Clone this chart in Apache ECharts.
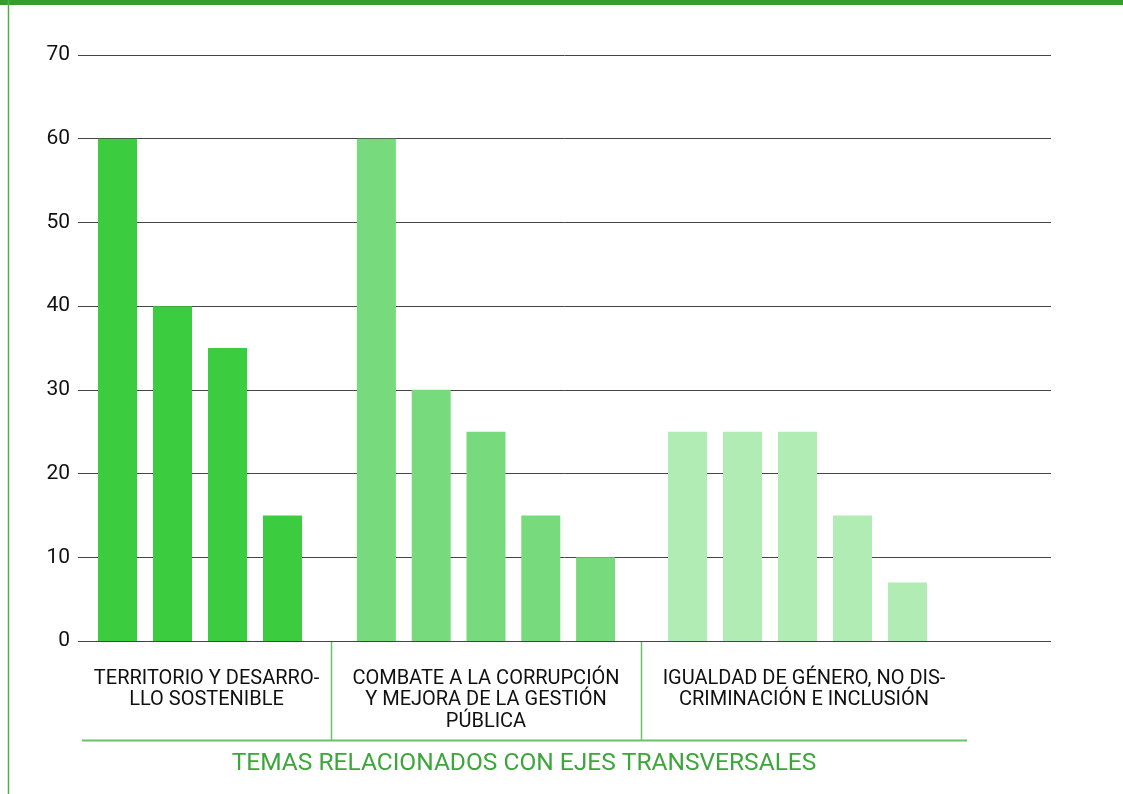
<!DOCTYPE html>
<html>
<head>
<meta charset="utf-8">
<script src="https://cdn.jsdelivr.net/npm/echarts@6/dist/echarts.min.js"></script>
<style>
html,body{margin:0;padding:0;background:#fff;}
#chart{width:1123px;height:794px;}
</style>
</head>
<body>
<div id="chart"></div>
<script>
// ---- data ----
var groupLabels = [
  "TERRITORIO Y DESARRO-\nLLO SOSTENIBLE",
  "COMBATE A LA CORRUPCIÓN\nY MEJORA DE LA GESTIÓN\nPÚBLICA",
  "IGUALDAD DE GÉNERO, NO DIS-\nCRIMINACIÓN E INCLUSIÓN"
];
var group1Values = [60, 40, 35, 15];
var group2Values = [60, 30, 25, 15, 10];
var group3Values = [25, 25, 25, 15, 7];
var yTicks = [0, 10, 20, 30, 40, 50, 60, 70];
var axisTitle = "TEMAS RELACIONADOS CON EJES TRANSVERSALES";

// ---- styles ----
var colors = ["#3BCD3F", "#77DB7D", "#B0ECB3"];
var FONT = "Roboto";
var top0 = 55, bottom0 = 794 - 641;
var groupGrids = [
  {left: 90, width: 220},
  {left: 349, width: 274},
  {left: 660, width: 275}
];
var groupValues = [group1Values, group2Values, group3Values];
var labelCenters = [206.5, 486, 804];

var grids = [{left: 78, right: 72, top: top0, bottom: bottom0}];
var xAxes = [{gridIndex: 0, type: 'value', show: false, min: 0, max: 1}];
var yAxes = [{
  gridIndex: 0, type: 'value', min: yTicks[0], max: yTicks[yTicks.length - 1], interval: 10,
  axisLine: {show: false}, axisTick: {show: false},
  axisLabel: {color: '#111', fontFamily: FONT, fontSize: 21, margin: 8, verticalAlign: 'middle', padding: [4, 0, 0, 0]},
  splitLine: {lineStyle: {color: '#444', width: 1}}
}];
var series = [];
groupGrids.forEach(function (g, i) {
  var gi = i + 1;
  grids.push({left: g.left, width: g.width, top: top0, bottom: bottom0});
  xAxes.push({gridIndex: gi, type: 'category', data: groupValues[i].map(function (v, k) { return String(k + 1); }),
    show: false, boundaryGap: true});
  yAxes.push({gridIndex: gi, type: 'value', min: 0, max: 70, show: false, splitLine: {show: false}});
  series.push({
    type: 'bar', xAxisIndex: gi, yAxisIndex: gi, data: groupValues[i],
    barWidth: 39, itemStyle: {color: colors[i]}, z: 5, silent: true
  });
});

var graphics = [
  {type: 'rect', shape: {x: 0, y: 0, width: 1123, height: 5}, style: {fill: '#349E2D'}},
  {type: 'line', shape: {x1: 8.5, y1: 0, x2: 8.5, y2: 794}, style: {stroke: '#4FAE49', lineWidth: 1.5}},
  {type: 'line', shape: {x1: 82, y1: 740.5, x2: 967, y2: 740.5}, style: {stroke: '#6DC06A', lineWidth: 2}},
  {type: 'line', shape: {x1: 331.5, y1: 641, x2: 331.5, y2: 740}, style: {stroke: '#6DC06A', lineWidth: 1.5}},
  {type: 'line', shape: {x1: 641.5, y1: 641, x2: 641.5, y2: 740}, style: {stroke: '#6DC06A', lineWidth: 1.5}},
  {type: 'text', x: 524, y: 764, style: {text: axisTitle, fill: '#3CA63A', fontFamily: FONT, fontSize: 24.5,
    textAlign: 'center', textVerticalAlign: 'middle'}}
];
groupLabels.forEach(function (t, i) {
  graphics.push({type: 'text', x: labelCenters[i], y: 668, style: {text: t, fill: '#111', fontFamily: FONT,
    fontSize: 20, lineHeight: 21.5, textAlign: 'center', textVerticalAlign: 'top'}});
});

var chart = echarts.init(document.getElementById('chart'), null, {renderer: 'canvas'});
chart.setOption({
  animation: false,
  backgroundColor: '#fff',
  grid: grids,
  xAxis: xAxes,
  yAxis: yAxes,
  series: series,
  graphic: graphics
});
</script>
</body>
</html>
